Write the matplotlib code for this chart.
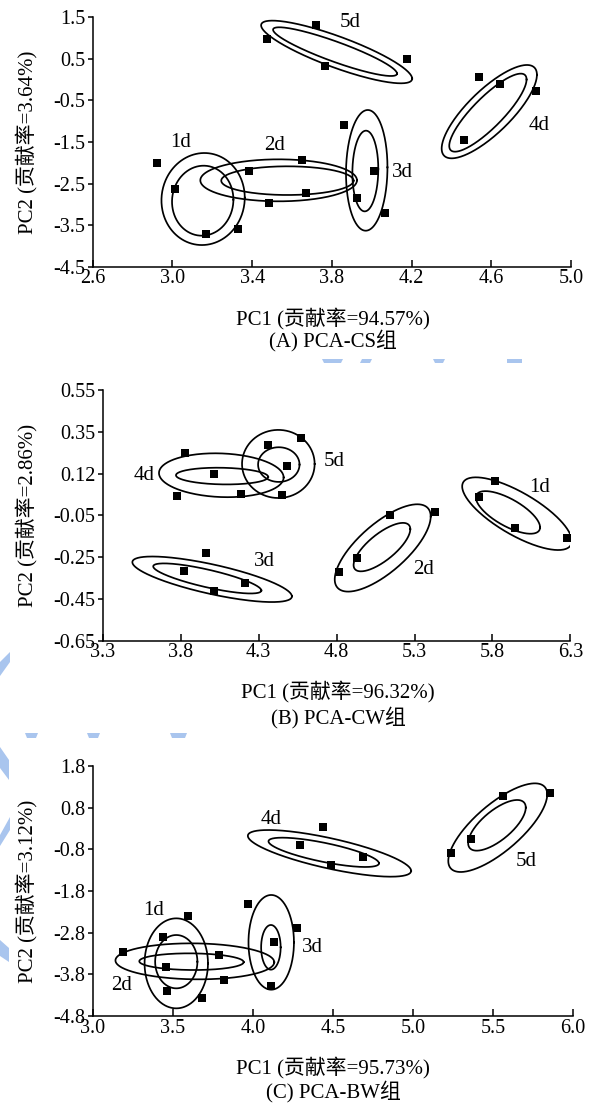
import numpy as np
import matplotlib.pyplot as plt
from matplotlib.patches import Polygon

plt.rcParams['font.family'] = ['Liberation Serif', 'Noto Sans CJK SC']
plt.rcParams['axes.unicode_minus'] = False

groups = ['1d', '2d', '3d', '4d', '5d']

# (A) PCA-CS
cs_pc1 = [[2.923, 3.012, 3.171, 3.327],
          [3.382, 3.649, 3.670, 3.486],
          [3.862, 4.010, 3.928, 4.067],
          [4.537, 4.645, 4.822, 4.461],
          [3.475, 3.721, 3.767, 4.177]]
cs_pc2 = [[-2.013, -2.631, -3.714, -3.602],
          [-2.198, -1.941, -2.727, -2.960],
          [-1.099, -2.206, -2.856, -3.217],
          [0.056, -0.104, -0.273, -1.452],
          [0.971, 1.324, 0.329, 0.505]]
# ellipses: centre x, centre y, half-width, half-height, correlation
cs_outer = [(3.154, -2.872, 0.209, 1.107, 0.03),
            (3.533, -2.422, 0.393, 0.505, 0.0),
            (3.975, -2.182, 0.104, 1.452, 0.05),
            (4.590, -0.770, 0.239, 1.123, 0.79),
            (3.824, 0.666, 0.379, 0.754, -0.85)]
cs_inner = [(3.152, -2.912, 0.154, 0.842, 0.03),
            (3.577, -2.430, 0.332, 0.345, 0.0),
            (3.968, -2.198, 0.065, 0.971, 0.05),
            (4.583, -0.794, 0.194, 0.939, 0.85),
            (3.816, 0.674, 0.311, 0.586, -0.9)]
cs_text = [(3.042, -1.516), (3.514, -1.596), (4.156, -2.238), (4.839, -1.115), (3.890, 1.372)]

# (B) PCA-CW
cw_pc1 = [[5.815, 5.715, 5.943, 6.276],
          [5.140, 5.431, 4.934, 4.817],
          [3.963, 3.819, 4.213, 4.014],
          [3.829, 4.014, 3.773, 4.184],
          [4.358, 4.574, 4.484, 4.450]]
cw_pc2 = [[0.116, 0.036, -0.111, -0.158],
          [-0.050, -0.036, -0.256, -0.323],
          [-0.230, -0.316, -0.375, -0.411],
          [0.247, 0.149, 0.043, 0.052],
          [0.287, 0.322, 0.186, 0.049]]
cw_outer = [(5.958, -0.042, 0.352, 0.174, -0.75),
            (5.096, -0.206, 0.308, 0.209, 0.72),
            (4.001, -0.356, 0.512, 0.109, -0.75),
            (4.060, 0.142, 0.400, 0.105, -0.1),
            (4.426, 0.196, 0.233, 0.163, 0.0)]
cw_inner = [(5.900, -0.036, 0.206, 0.102, -0.7),
            (5.091, -0.202, 0.182, 0.116, 0.74),
            (3.970, -0.352, 0.347, 0.072, -0.8),
            (4.065, 0.138, 0.296, 0.040, -0.1),
            (4.429, 0.193, 0.133, 0.083, 0.0)]
cw_text = [(6.106, 0.084), (5.358, -0.308), (4.339, -0.272), (3.562, 0.143), (4.783, 0.207)]

# (C) PCA-BW
bw_pc1 = [[3.598, 3.442, 3.465, 3.680],
          [3.189, 3.787, 3.456, 3.820],
          [3.973, 4.276, 4.134, 4.113],
          [4.441, 4.294, 4.689, 4.491],
          [5.563, 5.858, 5.362, 5.239]]
bw_pc2 = [[-2.160, -2.706, -4.131, -4.316],
          [-3.102, -3.198, -3.515, -3.850],
          [-1.843, -2.486, -2.838, -4.000],
          [0.198, -0.286, -0.611, -0.814],
          [1.008, 1.096, -0.118, -0.488]]
bw_outer = [(3.522, -3.410, 0.198, 1.188, 0.0),
            (3.638, -3.357, 0.496, 0.475, -0.05),
            (4.115, -2.855, 0.142, 1.250, 0.0),
            (4.479, -0.506, 0.510, 0.616, -0.75),
            (5.530, 0.172, 0.309, 1.170, 0.75)]
bw_inner = [(3.522, -3.366, 0.132, 0.704, 0.0),
            (3.617, -3.366, 0.326, 0.220, -0.05),
            (4.113, -2.987, 0.061, 0.590, 0.0),
            (4.443, -0.479, 0.345, 0.387, -0.75),
            (5.525, 0.234, 0.180, 0.669, 0.7)]
bw_text = [(3.378, -2.019), (3.182, -3.982), (4.372, -2.987), (4.117, 0.392), (5.709, -0.726)]

cs_xticks = [2.6, 3.0, 3.4, 3.8, 4.2, 4.6, 5.0]
cw_xticks = [3.3, 3.8, 4.3, 4.8, 5.3, 5.8, 6.3]
bw_xticks = [3.0, 3.5, 4.0, 4.5, 5.0, 5.5, 6.0]
cs_ylabels = ['-4.5', '-3.5', '-2.5', '-1.5', '-0.5', '0.5', '1.5']
cw_ylabels = ['-0.65', '-0.45', '-0.25', '-0.05', '0.12', '0.35', '0.55']
bw_ylabels = ['-4.8', '-3.8', '-2.8', '-1.8', '-0.8', '0.8', '1.8']

W, H = 593, 1104
fig = plt.figure(figsize=(W / 100, H / 100), dpi=100)


def px(x0, y0, x1, y1):
    return [x0 / W, 1 - y1 / H, (x1 - x0) / W, (y1 - y0) / H]


def ellipse(ax, e):
    cx, cy, hx, hy, r = e
    t = np.linspace(0, 2 * np.pi, 300)
    ex = cx + hx * np.cos(t)
    ey = cy + hy * (r * np.cos(t) + np.sqrt(1 - r * r) * np.sin(t))
    ax.plot(ex, ey, color='black', lw=1.25)


def panel(rect, pc1, pc2, outer, inner, text, xticks, ylabels, xlabel, ylabel, caption, lab_pos):
    ax = fig.add_axes(rect)
    for i in range(len(groups)):
        ellipse(ax, outer[i])
        ellipse(ax, inner[i])
        ax.plot(pc1[i], pc2[i], 's', color='black', ms=5.5, mew=0)
        ax.text(text[i][0], text[i][1], groups[i], fontsize=15, ha='center', va='center')
    ylo, yhi = float(ylabels[0]), float(ylabels[-1])
    ax.set_xlim(xticks[0], xticks[-1])
    ax.set_ylim(ylo, yhi)
    ax.set_xticks(xticks)
    ax.set_xticklabels(['%.1f' % v for v in xticks])
    ax.set_yticks(np.linspace(ylo, yhi, len(ylabels)))
    ax.set_yticklabels(ylabels)
    ax.spines['top'].set_visible(False)
    ax.spines['right'].set_visible(False)
    ax.spines['left'].set_linewidth(1.1)
    ax.spines['bottom'].set_linewidth(1.1)
    ax.tick_params(axis='x', direction='in', length=5, width=1.1, pad=2, labelsize=14.5)
    ax.tick_params(axis='y', direction='out', length=3.5, width=1.1, pad=2, labelsize=14.5)
    lx, ly, cy_, yx, yy = lab_pos
    fig.text(lx / W, 1 - ly / H, xlabel, fontsize=15, ha='center', va='center')
    fig.text(lx / W, 1 - cy_ / H, caption, fontsize=15, ha='center', va='center')
    fig.text(yx / W, 1 - yy / H, ylabel, fontsize=15, ha='center', va='center', rotation=90)
    return ax


panel(px(92.7, 17.3, 571, 266.7), cs_pc1, cs_pc2, cs_outer, cs_inner, cs_text, cs_xticks, cs_ylabels,
      'PC1 (贡献率=94.57%)', 'PC2 (贡献率=3.64%)', '(A) PCA-CS组', (333, 318, 341, 27, 142))
panel(px(102.9, 390, 570.3, 640.7), cw_pc1, cw_pc2, cw_outer, cw_inner, cw_text, cw_xticks, cw_ylabels,
      'PC1 (贡献率=96.32%)', 'PC2 (贡献率=2.86%)', '(B) PCA-CW组', (338, 692, 718, 27, 515))
panel(px(92.7, 766, 573, 1016), bw_pc1, bw_pc2, bw_outer, bw_inner, bw_text, bw_xticks, bw_ylabels,
      'PC1 (贡献率=95.73%)', 'PC2 (贡献率=3.12%)', '(C) PCA-BW组', (333, 1068, 1092, 27, 891))

# faint watermark shapes
wm = [[(322, 359), (343, 359), (341, 363), (324, 363)],
      [(362, 359), (372, 359), (370, 363), (360, 363)],
      [(433, 359), (445, 359), (443, 363), (435, 363)],
      [(507, 359), (522, 359), (522, 363), (507, 363)],
      [(25, 733), (38, 733), (36, 738), (27, 738)],
      [(87, 733), (100, 733), (98, 738), (89, 738)],
      [(170, 733), (187, 733), (185, 738), (172, 738)],
      [(0, 662), (10, 652), (10, 662), (0, 676)],
      [(0, 747), (9, 760), (9, 780), (0, 768)],
      [(0, 835), (10, 817), (10, 830), (0, 846)],
      [(0, 940), (9, 948), (9, 962), (0, 956)]]
for poly in wm:
    fig.patches.append(Polygon([(x / W, 1 - y / H) for x, y in poly], closed=True,
                               transform=fig.transFigure, color='#a9c5ee', lw=0))

fig.savefig('out.png', dpi=100)
